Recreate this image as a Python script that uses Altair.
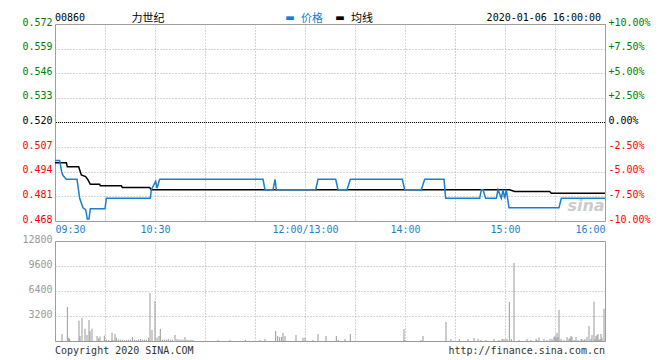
import altair as alt
import pandas as pd

# ---------------- data ----------------
price_t = [0, 2.8, 4, 4.8, 6.8, 13.2, 14.8, 16.8, 18.4, 19.4, 20.4, 21.2, 30, 30.8, 57.2,
           57.8, 60.4, 61.2, 62.8, 124.8, 126, 130.8, 132, 132.8, 156.4, 157.8, 168.4, 169.8,
           175.2, 177.2, 208.4, 209.8, 219.8, 221.8, 233.4, 234.4, 254.8, 255.8, 256.8, 258.4,
           264.8, 265.8, 267.8, 268.8, 269.8, 270.8, 272.4, 302.4, 303.8, 330]
price_v = [0.500, 0.500, 0.494, 0.492, 0.490, 0.490, 0.480, 0.475, 0.474, 0.469, 0.469, 0.4745,
           0.4745, 0.480, 0.480, 0.4845, 0.489, 0.4853, 0.490, 0.490, 0.4845, 0.4845, 0.490,
           0.4845, 0.4845, 0.490, 0.490, 0.4845, 0.4845, 0.490, 0.490, 0.4845, 0.4845, 0.490,
           0.490, 0.480, 0.480, 0.4845, 0.4845, 0.480, 0.480, 0.4845, 0.480, 0.4845, 0.480,
           0.4845, 0.475, 0.475, 0.480, 0.480]

avg_t = [0, 6.8, 7.4, 14.2, 15.8, 18.4, 19.8, 21.2, 26.8, 27.2, 39.8, 40.4, 56.8, 57.8,
         272.8, 275.8, 296.8, 297.8, 330]
avg_v = [0.4987, 0.4987, 0.4966, 0.4966, 0.4923, 0.4914, 0.4897, 0.4874, 0.4874, 0.4866,
         0.4866, 0.4857, 0.4857, 0.4845, 0.4845, 0.4836, 0.4836, 0.4827, 0.4827]

vol_t = [4.2, 7.4, 8.2, 8.8, 14.4, 15.0, 16.2, 18.0, 19.2, 20.4, 21.0, 22.2, 25.2, 26.2, 27.0,
         29.6, 30.8, 32.0, 34.2, 34.8, 36.0, 36.8, 38.0, 39.2, 40.4, 41.6, 42.8, 44.0, 45.2,
         46.4, 47.6, 48.8, 50.0, 51.2, 52.4, 53.6, 54.8, 56.2, 57.0, 58.2, 60.0, 61.2, 62.4,
         63.2, 64.4, 65.6, 66.8, 68.0, 69.2, 70.4, 72.0, 73.2, 74.4, 75.6, 76.8, 78.0, 79.2,
         80.4, 81.6, 82.8, 97.8, 105.0, 114.2, 123.0, 126.0, 132.4, 133.6, 134.8, 136.0, 136.8,
         138.0, 144.6, 148.8, 150.0, 154.8, 157.8, 162.6, 168.8, 170.0, 174.0, 177.2, 209.4,
         210.0, 219.6, 220.8, 234.6, 237.6, 242.6, 247.8, 251.4, 253.8, 255.6, 258.6, 263.4,
         266.4, 268.2, 268.8, 270.0, 271.2, 272.6, 273.8, 275.4, 278.4, 283.2, 285.6, 288.6,
         289.2, 290.4, 293.4, 295.2, 297.0, 298.2, 299.4, 300.0, 300.6, 301.2, 301.8, 302.4,
         303.6, 305.4, 307.2, 308.4, 309.0, 309.6, 310.2, 311.4, 312.6, 313.8, 315.6, 316.2,
         317.4, 318.0, 319.2, 320.4, 321.6, 322.2, 323.4, 324.0, 324.6, 325.2, 325.8, 326.4,
         327.0, 327.6, 328.2, 329.4]
vol_v = [896, 4352, 427, 299, 2603, 640, 2944, 1579, 768, 2688, 1280, 1579, 640, 341, 555,
         683, 171, 128, 1067, 128, 896, 427, 213, 171, 171, 128, 128, 171, 171,
         512, 171, 128, 171, 256, 171, 171, 171, 427, 6144, 1408, 5120, 427, 640,
         1536, 171, 171, 171, 256, 171, 171, 768, 256, 171, 171, 171, 512, 171,
         128, 171, 128, 128, 128, 128, 128, 256, 1280, 640, 512, 512, 1024,
         640, 768, 427, 427, 128, 896, 640, 640, 128, 256, 896, 1536,
         128, 128, 640, 2432, 256, 256, 256, 384, 256, 128, 128, 256,
         128, 256, 256, 256, 256, 4992, 256, 9984, 128, 256, 128, 256,
         128, 469, 256, 128, 256, 256, 512, 640, 384, 1024, 512, 3968,
         256, 128, 512, 256, 384, 640, 512, 128, 512, 128, 256, 256,
         128, 256, 512, 1920, 256, 768, 5035, 256, 640, 768, 896, 128,
         256, 896, 384, 4139]

price_ticks = [0.468, 0.481, 0.494, 0.507, 0.520, 0.533, 0.546, 0.559, 0.572]
pct_ticks = [-10, -7.5, -5, -2.5, 0, 2.5, 5, 7.5, 10]
vol_ticks = [3200, 6400, 9600, 12800]
time_ticks = list(range(0, 331, 30))
time_labels = {0: "09:30", 60: "10:30", 150: "12:00/13:00", 210: "14:00", 270: "15:00", 330: "16:00"}
prev_close = 0.520

code = "00860"
name = "力世纪"
legend_names = ["价格", "均线"]
stamp = "2020-01-06 16:00:00"
footer_left = "Copyright 2020 SINA.COM"
footer_right = "http://finance.sina.com.cn"

# ---------------- style ----------------
W = 550
H_PRICE = 197
FONT = "DejaVu Sans Mono"
CJK = "Noto Sans CJK SC"
BLUE = "#1a7fcf"
GREEN = "#008000"
RED = "#ff0000"
GRID = "#aaaaaa"
BORDER = "#999999"

time_expr = "".join(f"datum.value == {k} ? '{v}' : " for k, v in time_labels.items()) + "''"

color_cond_price = {
    "condition": [
        {"test": "datum.value > 0.5205", "value": GREEN},
        {"test": "datum.value < 0.5195", "value": RED},
    ],
    "value": "#000000",
}
color_cond_pct = {
    "condition": [
        {"test": "datum.value > 0.001", "value": GREEN},
        {"test": "datum.value < -0.001", "value": RED},
    ],
    "value": "#000000",
}

xscale = alt.Scale(domain=[0, 330], nice=False, zero=False)
yscale = alt.Scale(domain=[0.468, 0.572], nice=False, zero=False)

x_axis_price = alt.Axis(values=time_ticks, labelExpr=time_expr, labelColor=BLUE, labelFont=FONT,
                        labelFontSize=10, ticks=False, domain=False, grid=True, gridColor=GRID,
                        gridDash=[1, 2], labelFlush=True, labelOverlap=False, labelPadding=3,
                        title=None)
y_axis_price = alt.Axis(values=price_ticks, format=".3f", labelColor=color_cond_price,
                        labelFont=FONT, labelFontSize=10, ticks=False, domain=False, grid=True,
                        gridColor=GRID, gridDash=[1, 2], labelPadding=3, labelOffset=-2,
                        labelFlush=False, title=None)

price_df = pd.DataFrame({"t": price_t, "v": price_v})
avg_df = pd.DataFrame({"t": avg_t, "v": avg_v})
one = pd.DataFrame({"k": [0]})

price_line = alt.Chart(price_df).mark_line(color=BLUE, strokeWidth=1.5).encode(
    x=alt.X("t:Q", scale=xscale, axis=x_axis_price),
    y=alt.Y("v:Q", scale=yscale, axis=y_axis_price),
)
avg_line = alt.Chart(avg_df).mark_line(color="#000000", strokeWidth=1.5).encode(
    x=alt.X("t:Q", scale=xscale),
    y=alt.Y("v:Q", scale=yscale, axis=None),
)
prev_rule = alt.Chart(pd.DataFrame({"v": [prev_close]})).mark_rule(
    color="#000000", strokeDash=[1, 1], strokeWidth=1
).encode(y=alt.Y("v:Q", scale=yscale, axis=None))

pct_layer = alt.Chart(pd.DataFrame({"p": pct_ticks})).mark_point(opacity=0).encode(
    y=alt.Y("p:Q", scale=alt.Scale(domain=[-10, 10], nice=False, zero=False),
            axis=alt.Axis(orient="right", values=pct_ticks,
                          labelExpr="(datum.value > 0 ? '+' : datum.value < 0 ? '-' : '') + format(abs(datum.value), '.2f') + '%'",
                          labelColor=color_cond_pct, labelFont=FONT, labelFontSize=10,
                          ticks=False, domain=False, grid=False, labelPadding=3,
                          labelOffset=-2, labelFlush=False, title=None)),
)

HY = -2
hdr_code = alt.Chart(one).mark_text(align="left", baseline="alphabetic", font=FONT, fontSize=10,
                                    color="#000000").encode(x=alt.value(0), y=alt.value(HY - 1), text=alt.value(code))
hdr_name = alt.Chart(one).mark_text(align="center", baseline="alphabetic", font=CJK, fontSize=11,
                                    color="#000000").encode(x=alt.value(93), y=alt.value(HY), text=alt.value(name))
sw1 = alt.Chart(one).mark_text(align="center", baseline="alphabetic", font="DejaVu Sans", fontSize=10,
                               color=BLUE).encode(x=alt.value(235), y=alt.value(HY - 1), text=alt.value("▬"))
lg1 = alt.Chart(one).mark_text(align="left", baseline="alphabetic", font=CJK, fontSize=11,
                               color=BLUE).encode(x=alt.value(246), y=alt.value(HY), text=alt.value(legend_names[0]))
sw2 = alt.Chart(one).mark_text(align="center", baseline="alphabetic", font="DejaVu Sans", fontSize=10,
                               color="#000000").encode(x=alt.value(285), y=alt.value(HY - 1), text=alt.value("▬"))
lg2 = alt.Chart(one).mark_text(align="left", baseline="alphabetic", font=CJK, fontSize=11,
                               color="#000000").encode(x=alt.value(296), y=alt.value(HY), text=alt.value(legend_names[1]))
hdr_time = alt.Chart(one).mark_text(align="right", baseline="alphabetic", font=FONT, fontSize=10,
                                    color="#000000").encode(x=alt.value(546), y=alt.value(HY - 1), text=alt.value(stamp))
watermark = alt.Chart(one).mark_text(align="center", baseline="middle", font="DejaVu Sans", fontSize=16,
                                     fontStyle="italic", fontWeight="bold", color="#cccccc").encode(
    x=alt.value(531), y=alt.value(182), text=alt.value("sina"))

price_chart = alt.layer(
    prev_rule, avg_line, price_line, pct_layer,
    hdr_code, hdr_name, sw1, lg1, sw2, lg2, hdr_time, watermark,
).resolve_scale(y="independent").properties(width=W, height=H_PRICE)

# volume
vol_df = pd.DataFrame({"t": vol_t, "vol": vol_v})
vol_bars = alt.Chart(vol_df).mark_rule(color="#999999", strokeWidth=1).encode(
    x=alt.X("t:Q", scale=xscale,
            axis=alt.Axis(values=time_ticks, labels=False, ticks=False, domain=False, grid=True,
                          gridColor=GRID, gridDash=[1, 2], title=None)),
    y=alt.Y("vol:Q", scale=alt.Scale(domain=[0, 12800], nice=False, zero=True),
            axis=alt.Axis(values=vol_ticks, format="d", labelColor="#999999", labelFont=FONT,
                          labelFontSize=10, ticks=False, domain=False, grid=True, gridColor=GRID,
                          gridDash=[1, 2], labelPadding=3, labelOffset=-2, labelFlush=False,
                          title=None)),
    y2=alt.datum(0),
)
foot_l = alt.Chart(one).mark_text(align="left", baseline="middle", font=FONT, fontSize=10,
                                  color="#333333").encode(x=alt.value(0), y=alt.value(110), text=alt.value(footer_left))
foot_r = alt.Chart(one).mark_text(align="right", baseline="middle", font=FONT, fontSize=10,
                                  color="#333333").encode(x=alt.value(W), y=alt.value(110), text=alt.value(footer_right))

vol_chart = alt.layer(vol_bars, foot_l, foot_r).properties(width=W, height=100)

chart = alt.vconcat(price_chart, vol_chart, spacing=20, bounds="flush").properties(
    padding={"left": 13, "top": 4, "right": 0, "bottom": 0},
    background="#ffffff",
).configure_view(stroke=BORDER, strokeWidth=1)

chart.save("out.html", embed_options={"renderer": "svg", "actions": False})
